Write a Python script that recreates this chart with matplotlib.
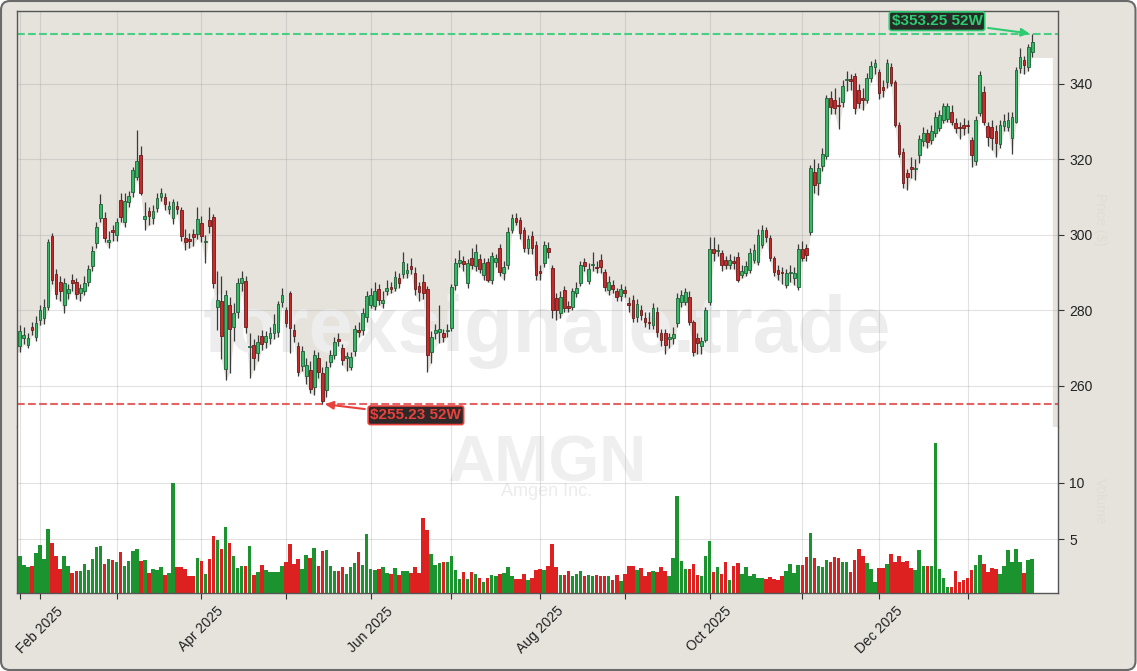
import numpy as np
import pandas as pd
import matplotlib
matplotlib.use("Agg")
import matplotlib.pyplot as plt
from matplotlib.patches import FancyBboxPatch
from matplotlib.transforms import IdentityTransform

plt.rcParams["font.family"] = ["Liberation Sans", "DejaVu Sans"]

# NYSE holidays inside the window (bars are trading days, x axis is the bar index)
HOLIDAYS = ["2025-02-17", "2025-04-18", "2025-05-26", "2025-06-19", "2025-07-04",
            "2025-09-01", "2025-11-27", "2025-12-25", "2026-01-01", "2026-01-19"]
dates = pd.bdate_range("2025-01-27", "2026-01-27", freq="C", holidays=HOLIDAYS)

TICKER = "AMGN"
NAME = "Amgen Inc."
HIGH_52W = 353.25
LOW_52W = 255.23

opens = [
    270.5, 272.8, 270.8, 275.6, 273.0, 277.5, 278.0, 281.0, 299.7, 289.7,
    287.5, 281.5, 284.6, 288.1, 287.5, 284.6, 285.0, 287.5, 291.8, 297.9,
    304.5, 304.5, 298.2, 301.3, 300.0, 309.3, 303.4, 308.7, 311.4, 315.4,
    321.2, 304.2, 306.4, 304.5, 307.2, 310.0, 310.0, 306.9, 304.5, 307.7,
    306.6, 299.2, 298.9, 300.3, 300.3, 303.2, 298.1, 304.0, 304.8, 281.0,
    282.5, 264.5, 281.4, 275.6, 279.6, 287.3, 287.8, 270.3, 270.8, 268.7,
    273.2, 271.6, 272.7, 274.0, 274.3, 282.3, 280.1, 284.6, 274.8, 270.6,
    265.3, 262.6, 264.2, 259.7, 267.4, 263.4, 258.9, 266.4, 268.2, 272.4,
    270.0, 267.4, 265.0, 269.3, 274.8, 274.8, 278.3, 281.4, 281.2, 285.7,
    282.0, 285.2, 286.2, 286.0, 288.6, 289.7, 290.0, 291.8, 290.0, 286.5,
    287.5, 285.7, 269.0, 274.0, 274.3, 274.0, 274.5, 275.4, 286.8, 292.6,
    293.2, 287.3, 293.9, 291.8, 293.6, 289.4, 292.8, 288.1, 292.8, 296.6,
    290.0, 292.0, 301.3, 304.5, 304.0, 301.3, 296.6, 299.7, 297.4, 290.5,
    292.6, 296.6, 291.2, 283.3, 279.3, 285.4, 281.2, 281.0, 284.6, 287.3,
    292.8, 287.9, 292.0, 291.6, 293.4, 290.2, 285.4, 286.8, 285.2, 283.8,
    285.4, 282.0, 282.8, 278.3, 280.1, 278.0, 276.9, 276.2, 279.6, 274.0,
    274.0, 272.5, 272.7, 276.7, 282.2, 282.3, 283.6, 277.0, 272.7, 270.6,
    272.2, 282.3, 296.3, 295.8, 295.2, 293.4, 292.0, 293.2, 294.2, 289.4,
    290.0, 290.7, 293.4, 292.8, 297.4, 301.3, 299.2, 293.9, 290.7, 290.1,
    286.8, 289.8, 288.6, 286.2, 296.3, 296.6, 300.8, 316.7, 313.8, 318.3,
    320.9, 336.3, 335.8, 334.4, 335.2, 341.0, 341.2, 342.1, 338.4, 336.3,
    335.8, 341.6, 344.5, 343.2, 339.2, 340.5, 344.5, 340.5, 329.1, 322.0,
    316.4, 318.0, 317.5, 321.2, 324.9, 327.0, 325.2, 327.0, 328.3, 330.5,
    330.7, 332.6, 329.7, 328.5, 329.1, 329.0, 325.2, 319.5, 332.3, 337.9,
    328.9, 328.6, 327.5, 324.1, 328.9, 328.6, 325.7, 330.0, 344.2, 346.4,
    344.5, 348.5,
]
highs = [
    276.0, 275.5, 274.0, 277.0, 278.5, 281.5, 283.0, 299.0, 300.5, 291.0,
    289.0, 288.5, 287.0, 289.5, 288.5, 287.0, 289.0, 292.0, 297.0, 303.5,
    310.8, 306.0, 301.0, 302.5, 304.5, 311.0, 311.0, 311.5, 318.0, 327.8,
    323.5, 308.7, 307.5, 308.0, 311.0, 312.3, 311.0, 309.0, 309.5, 309.0,
    307.5, 301.5, 300.5, 301.5, 307.5, 305.0, 300.0, 307.3, 305.5, 290.5,
    289.0, 285.5, 283.5, 282.0, 288.5, 290.5, 289.0, 274.0, 272.5, 273.5,
    274.8, 274.5, 275.5, 279.0, 282.5, 286.0, 281.0, 285.2, 276.5, 271.5,
    270.5, 267.5, 266.5, 269.5, 269.0, 265.0, 266.5, 269.5, 273.0, 274.0,
    271.0, 269.0, 269.0, 276.0, 277.0, 280.5, 285.0, 286.0, 287.5, 287.0,
    285.0, 288.0, 287.5, 290.5, 290.0, 295.5, 292.5, 294.0, 291.5, 287.5,
    289.5, 286.5, 274.5, 276.5, 281.4, 275.0, 276.5, 287.0, 294.0, 296.0,
    294.5, 293.5, 296.5, 297.5, 295.0, 294.0, 294.0, 295.5, 295.0, 297.5,
    293.0, 302.0, 305.5, 305.8, 304.8, 302.0, 300.0, 301.0, 298.5, 292.0,
    298.5, 298.0, 292.0, 284.5, 285.0, 286.5, 282.5, 286.0, 287.5, 293.0,
    294.0, 292.5, 295.5, 293.0, 295.0, 291.0, 289.0, 288.0, 286.0, 287.0,
    286.5, 283.5, 284.0, 283.0, 281.5, 279.5, 279.5, 282.0, 281.0, 275.0,
    275.0, 274.0, 275.5, 284.5, 285.5, 286.0, 285.0, 277.5, 274.0, 273.0,
    281.0, 299.5, 299.5, 297.5, 296.0, 294.5, 295.0, 294.5, 295.5, 292.0,
    293.0, 296.5, 297.5, 301.5, 302.5, 302.0, 300.0, 294.5, 292.0, 291.5,
    291.0, 292.0, 291.5, 297.5, 298.5, 297.5, 318.5, 320.0, 319.0, 323.0,
    337.0, 338.0, 339.0, 336.5, 341.0, 343.5, 342.5, 343.0, 340.0, 339.0,
    343.0, 346.0, 346.5, 344.0, 341.0, 346.5, 345.5, 341.0, 330.0, 323.0,
    317.5, 320.5, 320.0, 326.5, 328.5, 328.0, 329.0, 332.5, 333.0, 335.0,
    335.0, 334.5, 331.0, 330.0, 331.0, 330.5, 326.0, 331.5, 343.5, 339.5,
    330.0, 330.5, 329.0, 330.5, 332.0, 332.5, 332.5, 344.5, 349.5, 347.5,
    350.5, 353.25,
]
lows = [
    269.0, 271.0, 270.0, 273.5, 272.0, 276.0, 276.5, 280.0, 287.0, 283.0,
    282.5, 279.3, 283.0, 285.0, 283.0, 282.5, 284.0, 286.5, 290.5, 296.5,
    303.5, 298.0, 296.5, 298.5, 298.5, 303.5, 302.0, 307.5, 310.0, 314.5,
    310.5, 301.3, 302.5, 303.0, 306.0, 309.0, 306.5, 305.5, 303.0, 305.5,
    298.5, 296.0, 296.5, 297.0, 299.0, 298.0, 292.5, 300.5, 286.0, 274.8,
    267.0, 261.5, 263.4, 272.0, 278.0, 285.0, 274.0, 262.1, 264.2, 266.5,
    269.5, 270.0, 271.0, 272.5, 273.0, 281.0, 275.5, 268.7, 271.5, 262.5,
    264.0, 260.5, 258.0, 257.5, 262.0, 255.23, 257.0, 265.0, 267.0, 270.5,
    265.5, 264.0, 264.2, 268.0, 273.0, 273.5, 277.0, 280.5, 280.0, 281.5,
    280.5, 284.0, 284.5, 285.0, 286.0, 288.5, 288.5, 289.5, 284.0, 282.5,
    283.0, 263.7, 266.0, 272.5, 271.4, 271.5, 273.0, 274.5, 285.5, 291.5,
    290.5, 286.0, 291.0, 290.5, 290.0, 288.0, 287.5, 287.0, 291.5, 289.0,
    288.0, 291.0, 300.5, 302.5, 299.0, 295.5, 295.0, 295.0, 288.0, 288.0,
    291.5, 294.0, 278.0, 277.5, 278.0, 279.5, 279.5, 280.0, 283.5, 286.5,
    290.5, 287.0, 290.5, 290.0, 290.0, 285.0, 284.0, 284.5, 282.5, 282.5,
    283.5, 279.5, 277.0, 277.0, 277.5, 275.5, 275.0, 275.0, 273.0, 270.5,
    268.5, 270.0, 271.0, 275.5, 281.0, 281.5, 276.0, 267.8, 268.5, 268.5,
    271.5, 281.5, 293.0, 294.5, 290.5, 291.0, 291.0, 291.0, 287.5, 288.5,
    289.0, 290.0, 292.5, 292.0, 296.5, 298.0, 293.0, 289.0, 288.0, 287.0,
    286.0, 287.5, 286.8, 285.5, 293.0, 293.0, 300.0, 311.0, 310.5, 317.0,
    320.0, 332.0, 332.0, 328.1, 334.0, 338.0, 338.5, 332.0, 333.5, 333.0,
    335.0, 340.5, 342.5, 336.0, 336.5, 339.0, 339.5, 328.5, 320.5, 312.5,
    312.0, 315.0, 314.5, 319.0, 323.5, 323.0, 324.0, 326.0, 327.5, 329.5,
    330.0, 329.0, 327.0, 325.5, 326.5, 327.0, 318.0, 318.5, 331.5, 329.0,
    323.5, 322.5, 320.5, 323.0, 327.5, 327.5, 321.5, 329.5, 343.0, 342.5,
    343.5, 347.0,
]
closes = [
    274.5, 273.5, 272.7, 274.8, 276.7, 280.1, 281.0, 298.2, 288.1, 284.4,
    285.2, 287.3, 285.7, 287.3, 284.4, 286.0, 287.3, 291.0, 295.8, 302.1,
    308.2, 299.2, 298.7, 300.8, 303.4, 304.8, 309.0, 310.3, 317.2, 319.6,
    311.1, 305.0, 305.0, 306.4, 309.8, 311.1, 308.2, 307.7, 308.7, 306.9,
    299.7, 298.1, 298.4, 299.5, 304.2, 299.7, 298.4, 302.4, 287.3, 282.8,
    273.2, 284.0, 275.0, 279.3, 287.3, 288.6, 275.6, 270.6, 267.4, 271.6,
    271.1, 273.2, 274.0, 276.4, 281.7, 284.1, 276.7, 275.4, 273.2, 263.7,
    269.3, 265.6, 259.2, 268.2, 263.7, 256.0, 265.0, 268.2, 271.6, 272.0,
    266.9, 267.9, 267.7, 275.0, 274.3, 279.3, 283.8, 284.1, 285.2, 282.8,
    282.8, 286.0, 285.7, 288.9, 287.3, 292.8, 290.7, 291.0, 285.7, 284.9,
    284.6, 268.2, 273.0, 274.8, 275.0, 273.0, 274.8, 286.2, 292.6, 293.4,
    292.3, 292.6, 292.0, 295.5, 291.0, 292.6, 288.1, 294.4, 293.9, 290.2,
    291.5, 300.8, 304.5, 303.4, 300.5, 296.6, 298.9, 296.6, 289.4, 290.0,
    297.4, 295.5, 280.1, 280.1, 283.6, 280.7, 280.7, 285.0, 286.0, 292.0,
    291.8, 291.0, 292.3, 291.3, 291.5, 286.2, 287.6, 285.7, 283.6, 285.7,
    284.6, 281.4, 278.0, 281.7, 278.8, 277.0, 276.6, 280.7, 274.3, 272.2,
    270.9, 272.9, 273.8, 283.3, 284.1, 284.9, 277.0, 269.0, 271.4, 271.9,
    280.1, 296.3, 295.2, 296.1, 292.0, 292.0, 293.4, 292.6, 288.1, 290.4,
    291.8, 295.2, 296.0, 300.0, 301.3, 299.5, 293.9, 290.2, 289.7, 290.0,
    290.0, 290.2, 290.0, 296.3, 293.9, 294.7, 317.7, 313.2, 317.8, 321.5,
    336.3, 333.9, 333.6, 334.1, 339.5, 341.4, 340.8, 333.6, 335.0, 335.6,
    341.6, 344.8, 345.6, 337.6, 338.4, 345.6, 340.3, 329.1, 321.5, 313.8,
    315.4, 317.5, 317.8, 325.4, 327.0, 324.6, 327.5, 331.3, 331.8, 334.2,
    334.2, 330.0, 328.3, 328.2, 328.3, 328.8, 321.2, 330.4, 342.4, 330.0,
    326.0, 325.7, 324.4, 329.1, 330.2, 330.5, 331.3, 343.7, 347.2, 345.0,
    349.8, 351.1,
]
# volume in millions of shares
volumes = [
    3.54, 2.75, 2.51, 2.60, 3.83, 4.50, 3.30, 5.90, 4.68, 3.48,
    2.40, 3.54, 2.66, 2.02, 2.22, 2.22, 2.84, 2.31, 3.27, 4.36,
    4.41, 2.84, 3.27, 3.19, 3.01, 3.89, 2.66, 3.10, 4.00, 4.15,
    3.10, 3.19, 2.02, 2.40, 2.31, 2.57, 1.87, 2.02, 10.0, 2.51,
    2.57, 2.40, 1.78, 1.78, 3.36, 3.10, 1.96, 3.27, 5.29, 4.94,
    4.15, 6.08, 4.68, 3.54, 2.49, 2.66, 2.66, 4.41, 1.87, 2.13,
    2.75, 2.31, 2.13, 2.13, 2.13, 2.66, 3.01, 4.59, 2.84, 3.27,
    2.40, 3.62, 3.36, 4.24, 2.66, 3.98, 4.06, 2.66, 2.22, 2.22,
    2.57, 1.96, 2.57, 2.92, 3.89, 2.75, 5.47, 2.40, 2.31, 2.40,
    2.57, 2.05, 1.96, 2.49, 1.87, 2.22, 2.22, 2.02, 2.57, 2.02,
    6.87, 5.82, 3.71, 2.75, 2.90, 3.01, 3.01, 3.54, 2.31, 1.52,
    2.13, 1.52, 2.13, 1.96, 1.61, 1.26, 1.61, 1.87, 1.78, 1.96,
    2.05, 2.57, 1.78, 1.52, 1.52, 1.96, 1.43, 1.61, 2.31, 2.40,
    2.31, 2.66, 4.59, 2.57, 1.87, 1.87, 2.22, 1.78, 1.96, 2.22,
    1.78, 1.87, 1.78, 1.87, 1.78, 1.78, 1.78, 1.43, 1.87, 1.35,
    1.96, 2.66, 2.66, 2.31, 2.49, 1.78, 2.13, 2.22, 2.13, 2.57,
    2.22, 1.78, 3.36, 8.80, 3.10, 2.40, 2.40, 2.84, 1.87, 1.78,
    3.54, 4.85, 2.13, 2.57, 1.96, 3.01, 1.43, 2.66, 2.90, 1.96,
    2.57, 1.78, 1.96, 1.61, 1.61, 1.52, 1.70, 1.52, 1.43, 1.78,
    2.22, 2.84, 2.05, 2.75, 2.75, 3.45, 5.55, 3.36, 2.66, 2.57,
    3.19, 3.01, 3.45, 3.36, 3.01, 3.01, 2.13, 3.19, 4.15, 3.54,
    2.90, 2.40, 1.26, 2.43, 2.49, 2.84, 3.71, 2.95, 3.54, 2.95,
    3.10, 2.49, 2.31, 4.06, 2.66, 2.60, 2.66, 13.5, 2.40, 1.61,
    0.82, 0.82, 2.22, 1.26, 1.43, 1.61, 2.31, 2.75, 3.62, 2.84,
    2.13, 2.49, 2.40, 1.96, 2.66, 4.06, 3.01, 4.15, 3.01, 2.05,
    3.19, 3.27,
]

o = np.array(opens); h = np.array(highs); l = np.array(lows); c = np.array(closes)
v = np.array(volumes)
n = len(c)
x = np.arange(n)
up = c >= o

BG = "#e6e3dd"
GREEN_LINE = "#2ecc71"
RED_LINE = "#e04848"

fig = plt.figure(figsize=(11.37, 6.71), dpi=100, facecolor="white")
frame = FancyBboxPatch((1, 1), 1134.5, 669, boxstyle="round,pad=0,rounding_size=9",
                       transform=IdentityTransform(), facecolor=BG,
                       edgecolor="#6a6a6a", linewidth=1.5, zorder=-10)
fig.patches.append(frame)

W, H = 1137, 671
ax = fig.add_axes([17 / W, 1 - 427 / H, 1041 / W, 416 / H], facecolor=BG)
axv = fig.add_axes([17 / W, 1 - 593 / H, 1041 / W, 166 / H], facecolor="white", sharex=ax)

# area under the lows is white, above stays beige
xf = np.concatenate([[x[0] - 1], x, [x[-1] + 5]])
lf = np.concatenate([[l[0]], l, [l[-1]]])
ax.fill_between(xf, lf, 240, color="white", lw=0, zorder=0.3)

# candles
ax.vlines(x, l, h, color="#3a3a3a", lw=0.9, zorder=2)
body = np.maximum(np.abs(c - o), 0.25)
ax.bar(x, body, bottom=np.minimum(o, c), width=0.68,
       color=np.where(up, "#34b865", "#c62a2a"),
       edgecolor=np.where(up, "#1f5f36", "#6b1a1a"), linewidth=0.6, zorder=3)

# 52-week lines and labels
ax.axhline(HIGH_52W, color=GREEN_LINE, ls="--", lw=1.5, alpha=0.85, zorder=1.5)
ax.axhline(LOW_52W, color=RED_LINE, ls="--", lw=1.5, alpha=0.85, zorder=1.5)
i_hi = int(np.argmax(h)); i_lo = int(np.argmin(l))
ax.annotate(f"${HIGH_52W:.2f} 52W", xy=(i_hi, HIGH_52W), xytext=(227.4, 356.6),
            ha="center", va="center", fontsize=11, fontweight="bold", color=GREEN_LINE,
            bbox=dict(boxstyle="round,pad=0.15", fc="#262b27", ec=GREEN_LINE, lw=1.2),
            arrowprops=dict(arrowstyle="-|>", color=GREEN_LINE, lw=1.5, mutation_scale=12),
            zorder=6)
ax.annotate(f"${LOW_52W:.2f} 52W", xy=(i_lo, LOW_52W), xytext=(98.2, 252.2),
            ha="center", va="center", fontsize=11, fontweight="bold", color="#e8413c",
            bbox=dict(boxstyle="round,pad=0.15", fc="#2e2828", ec="#e8413c", lw=1.2),
            arrowprops=dict(arrowstyle="-|>", color="#e8413c", lw=1.5, mutation_scale=12),
            zorder=6)

# volume
axv.bar(x, v, width=0.88, color=np.where(up, "#1b9430", "#dd2020"), zorder=2)

# watermarks
ax.text(0.509, 0.2296, "forexsignale.trade", transform=ax.transAxes, ha="center",
        va="center", fontsize=57.5, fontweight="bold", color="#ededed", zorder=0.4)
axv.text(0.509, 0.775, TICKER, transform=axv.transAxes, ha="center", va="center",
         fontsize=47, fontweight="bold", color="#efefef", zorder=0.4)
axv.text(0.509, 0.612, NAME, transform=axv.transAxes, ha="center", va="center",
         fontsize=13, color="#ececec", zorder=0.4)

# month ticks (first trading day), labels on even months
s = pd.Series(np.arange(n), index=dates)
firsts = s.groupby([dates.year, dates.month]).min()
tick_pos = firsts.values
tick_lab = [dates[i].strftime("%b %Y") if dates[i].month % 2 == 0 else "" for i in tick_pos]

ax.set_xlim(-0.7, 257.4)
ax.set_ylim(249.1, 359.3)
axv.set_ylim(0.26, 14.9)
axv.set_xticks(tick_pos)
axv.set_xticklabels(tick_lab, rotation=45, fontsize=10, color="#222222")
ax.tick_params(axis="x", which="both", bottom=False, labelbottom=False)
axv.tick_params(axis="x", length=4.5, color="#333333")

for a, ticks in ((ax, [260, 280, 300, 320, 340]), (axv, [5, 10])):
    a.yaxis.tick_right()
    a.set_yticks(ticks)
    a.tick_params(axis="y", labelsize=10, length=4.5, color="#333333", labelcolor="#222222")
    a.set_axisbelow(True)
    a.grid(True, color="#9a9a9a", alpha=0.28, lw=0.8)
    for sp in a.spines.values():
        sp.set_color("#555555")
        sp.set_linewidth(1.0)
ax.spines["bottom"].set_visible(False)
axv.spines["top"].set_visible(False)

ax.yaxis.set_label_position("right")
ax.set_ylabel("Price ($)", rotation=270, color="#e0ddd7", fontsize=10)
ax.yaxis.set_label_coords(1.047, 0.5)
axv.yaxis.set_label_position("right")
axv.set_ylabel("Volume", rotation=270, color="#e0ddd7", fontsize=10)
axv.yaxis.set_label_coords(1.047, 0.55)

fig.savefig("out.png", dpi=100, facecolor=fig.get_facecolor())
